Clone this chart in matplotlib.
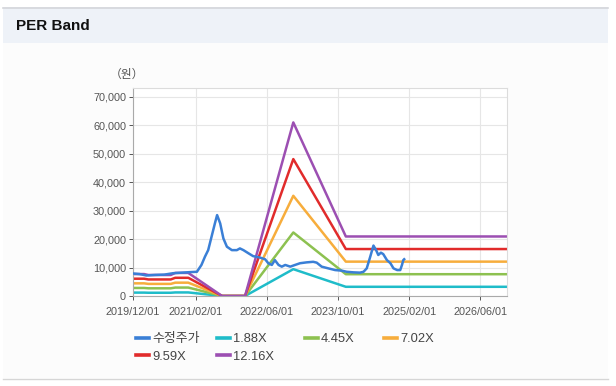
import matplotlib
matplotlib.use("Agg")
import matplotlib.pyplot as plt
from matplotlib.patches import Rectangle
from matplotlib.lines import Line2D
import pandas as pd

plt.rcParams['font.family'] = ['Liberation Sans', 'Noto Sans CJK KR', 'DejaVu Sans']

# ---- data ----
price_dates = ['2019-12-01', '2020-01-15', '2020-03-01', '2020-05-01', '2020-07-01', '2020-09-01',
               '2020-11-01', '2021-01-01', '2021-02-10', '2021-03-13', '2021-04-06', '2021-04-28',
               '2021-05-21', '2021-06-13', '2021-06-28', '2021-07-19', '2021-08-10', '2021-09-03',
               '2021-10-07', '2021-11-10', '2021-12-01', '2021-12-25', '2022-01-28', '2022-03-01',
               '2022-04-16', '2022-05-22', '2022-06-13', '2022-07-07', '2022-07-28', '2022-08-22',
               '2022-09-13', '2022-10-07', '2022-11-10', '2022-12-13', '2023-01-16', '2023-03-01',
               '2023-04-16', '2023-05-10', '2023-06-13', '2023-07-28', '2023-09-13', '2023-10-28',
               '2023-12-01', '2024-01-16', '2024-03-01', '2024-03-25', '2024-04-16', '2024-05-10',
               '2024-06-01', '2024-06-19', '2024-07-04', '2024-07-22', '2024-08-07', '2024-09-01',
               '2024-09-25', '2024-10-16', '2024-11-10', '2024-12-01', '2024-12-13', '2024-12-22',
               '2024-12-28']
price_values = [7900, 7700, 7200, 7400, 7500, 8000,
                8200, 8400, 8500, 10900, 13800, 16100,
                20800, 25500, 28400, 25500, 20200, 17300,
                16100, 16100, 16700, 16100, 15000, 14000,
                13500, 12900, 11500, 10900, 12600, 10900,
                10300, 10900, 10300, 10900, 11500, 11800,
                12000, 11700, 10300, 9700, 9100, 8900,
                8500, 8300, 8200, 8500, 9700, 13800,
                17700, 16100, 14400, 15200, 14700, 12600,
                11500, 9700, 9100, 9100, 10900, 12600,
                12900]

band_dates = ['2019-12-01', '2020-02-15', '2020-03-15', '2020-08-15', '2020-09-15', '2020-12-13',
              '2021-08-01', '2022-01-05', '2022-12-01', '2023-11-25', '2026-12-01']
band_188 = [1190, 1190, 1140, 1140, 1250, 1250, 0, 0, 9420, 3230, 3230]
band_445 = [2820, 2820, 2700, 2700, 2960, 2960, 0, 0, 22300, 7650, 7650]
band_702 = [4440, 4440, 4250, 4250, 4680, 4680, 0, 0, 35170, 12060, 12060]
band_959 = [6070, 6070, 5810, 5810, 6390, 6390, 0, 0, 48050, 16480, 16480]
band_1216 = [7700, 7700, 7370, 7370, 8100, 8100, 0, 0, 60920, 20890, 20890]

series_labels = ['수정주가', '1.88X', '4.45X', '7.02X', '9.59X', '12.16X']
series_colors = ['#3a7fd6', '#1fbcc9', '#8dc150', '#f7ad3c', '#e12b2b', '#9c4fb2']

x_ticks = ['2019-12-01', '2021-02-01', '2022-06-01', '2023-10-01', '2025-02-01', '2026-06-01']
y_ticks = [0, 10000, 20000, 30000, 40000, 50000, 60000, 70000]

# ---- figure ----
W, H = 616, 386
fig = plt.figure(figsize=(W / 100, H / 100), dpi=100, facecolor='white')

def fy(py):
    return 1 - py / H

# panel background / header
fig.patches.append(Rectangle((3 / W, fy(378)), 605 / W, 335 / H, transform=fig.transFigure,
                             facecolor='#fcfcfc', edgecolor='none', zorder=-5))
fig.patches.append(Rectangle((3 / W, fy(43)), 605 / W, 36 / H, transform=fig.transFigure,
                             facecolor='#eef2f8', edgecolor='none', zorder=-4))
fig.lines.append(Line2D([3 / W, 608 / W], [fy(7.5), fy(7.5)], transform=fig.transFigure,
                        color='#d4d6da', lw=1.2, zorder=-3))
fig.lines.append(Line2D([3 / W, 608 / W], [fy(378.5), fy(378.5)], transform=fig.transFigure,
                        color='#d6d6d6', lw=1.0, zorder=-3))
fig.text(16 / W, fy(26), 'PER Band', fontsize=11, fontweight='bold', color='#111111',
         va='center', ha='left')

ax = fig.add_axes([133 / W, fy(296), (507 - 133) / W, (296 - 88) / H], zorder=2)
ax.set_facecolor('white')

pd_price = pd.to_datetime(price_dates)
pd_band = pd.to_datetime(band_dates)
bands = [band_188, band_445, band_702, band_959, band_1216]

handles = []
h, = ax.plot(pd_price, price_values, color=series_colors[0], lw=1.8, label=series_labels[0], zorder=3)
handles.append(h)
for vals, lab, col in zip(bands, series_labels[1:], series_colors[1:]):
    h, = ax.plot(pd_band, vals, color=col, lw=1.8, label=lab, zorder=2)
    handles.append(h)

ax.set_xlim(pd.Timestamp('2019-12-01'), pd.Timestamp('2026-12-01'))
ax.set_ylim(0, 73000)
ax.set_yticks(y_ticks)
ax.set_yticklabels([f'{v:,}' for v in y_ticks])
xt = pd.to_datetime(x_ticks)
ax.set_xticks(xt)
ax.set_xticklabels([d.strftime('%Y/%m/%d') for d in xt])

ax.grid(True, color='#e6e6e6', lw=0.8)
ax.set_axisbelow(True)
ax.tick_params(axis='both', labelsize=7.8, colors='#555555', length=3, width=0.7)
ax.tick_params(axis='x', pad=5)
ax.tick_params(axis='y', pad=2)
for s in ['top', 'right']:
    ax.spines[s].set_color('#dcdcdc')
for s in ['left', 'bottom']:
    ax.spines[s].set_color('#aaaaaa')
for s in ax.spines.values():
    s.set_linewidth(0.8)

fig.text(127 / W, fy(75), '（원）', fontsize=8.5, color='#555555', ha='center', va='center')

# legend: four columns placed like the reference
columns = [[0, 4], [1, 5], [2], [3]]
col_x = [136, 217, 305, 384]
for idxs, cx in zip(columns, col_x):
    leg = fig.legend(handles=[handles[i] for i in idxs], labels=[series_labels[i] for i in idxs],
                     loc='upper left', bbox_to_anchor=(cx / W, fy(333)), frameon=False,
                     fontsize=9.3, handlelength=1.0, handletextpad=0.25, labelspacing=0.45,
                     borderaxespad=0, borderpad=0, labelcolor='#444444')
    for lh in leg.get_lines():
        lh.set_linewidth(2.6)

fig.savefig('out.png', dpi=100, facecolor=fig.get_facecolor())
